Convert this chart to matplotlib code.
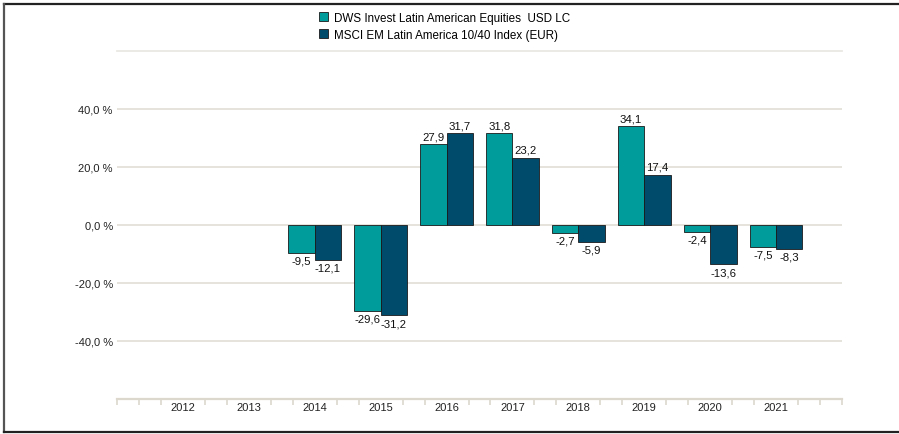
import matplotlib
matplotlib.use('Agg')
import matplotlib.pyplot as plt
from matplotlib.lines import Line2D
import numpy as np

plt.rcParams['font.family'] = ['Liberation Sans', 'DejaVu Sans']

years = [2012, 2013, 2014, 2015, 2016, 2017, 2018, 2019, 2020, 2021]
fund = [None, None, -9.5, -29.6, 27.9, 31.8, -2.7, 34.1, -2.4, -7.5]
index = [None, None, -12.1, -31.2, 31.7, 23.2, -5.9, 17.4, -13.6, -8.3]
fund_name = 'DWS Invest Latin American Equities  USD LC'
index_name = 'MSCI EM Latin America 10/40 Index (EUR)'
yticks = [-40, -20, 0, 20, 40]

teal = '#009c9c'
navy = '#004a6c'
grid_col = '#e2ded6'

W, H = 899, 435
fig = plt.figure(figsize=(W / 100, H / 100), dpi=100)
ax = fig.add_axes([117 / W, 1 - 400 / H, 725 / W, 348 / H])

w = 0.4

def fmt(v):
    return f'{v:.1f}'.replace('.', ',')

def draw(vals, shift, color):
    xs = [y + shift for y, v in zip(years, vals) if v is not None]
    vs = [v for v in vals if v is not None]
    bars = ax.bar(xs, vs, w, color=color, edgecolor='#1a1a1a', linewidth=0.6, zorder=3)
    ax.bar_label(bars, labels=[fmt(v) for v in vs], padding=2, fontsize=8.2, color='#111111')
    return bars

b1 = draw(fund, -w / 2, teal)
b2 = draw(index, w / 2, navy)

ax.set_xlim(2011, 2022)
ax.set_ylim(-60, 60)
ax.set_yticks(yticks)
ax.set_yticklabels([f'{v:.1f} %'.replace('.', ',') for v in yticks])
ax.yaxis.grid(True, color=grid_col, linewidth=1.2, zorder=0)
ax.tick_params(axis='y', length=0, pad=3, labelsize=8, colors='#222222')

ax.set_xticks(years)
ax.set_xticklabels([str(y) for y in years])
ax.tick_params(axis='x', which='major', length=0, pad=2, labelsize=8, colors='#222222')
minor = [2011 + k / 3 for k in range(34)]
minor = [t for t in minor if abs(t - round(t)) > 0.01 or round(t) in (2011, 2022)]
ax.set_xticks(minor, minor=True)
ax.tick_params(axis='x', which='minor', length=4, width=1.2, color='#dcd8ce', direction='out')

for s in ['left', 'right']:
    ax.spines[s].set_visible(False)
ax.spines['top'].set_color('#ebe8e3')
ax.spines['top'].set_linewidth(1.3)
ax.spines['bottom'].set_color('#dcd8ce')
ax.spines['bottom'].set_linewidth(1.6)

fig.legend([b1, b2], [fund_name, index_name], loc='upper left',
           bbox_to_anchor=(314 / W, 1 - 8 / H), frameon=False, fontsize=8.4,
           handlelength=0.8, handleheight=0.8, handletextpad=0.5,
           labelspacing=0.45, borderaxespad=0)

# outer border
fig.add_artist(Line2D([4 / W, 1], [1 - 5 / H, 1 - 5 / H], color='#222222', linewidth=1.6, transform=fig.transFigure))
fig.add_artist(Line2D([4 / W, 4 / W], [1 - 5 / H, 1 - 433 / H], color='#555555', linewidth=1.6, transform=fig.transFigure))
fig.add_artist(Line2D([4 / W, 1], [1 - 433 / H, 1 - 433 / H], color='#222222', linewidth=1.6, transform=fig.transFigure))

fig.savefig('out.png', dpi=100)
